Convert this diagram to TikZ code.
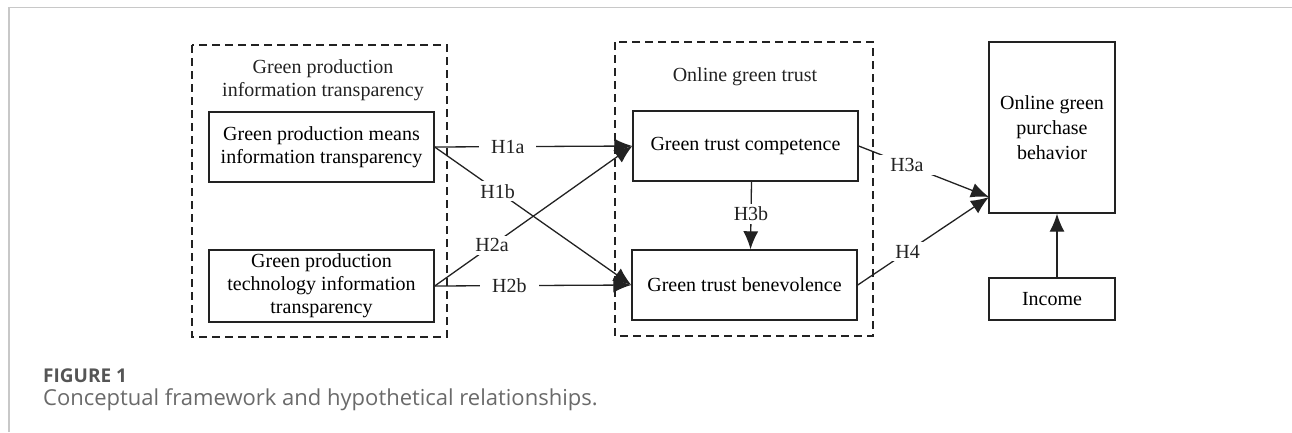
\documentclass[tikz,border=0pt]{standalone}
\usepackage{fontspec}
\setmainfont{Liberation Serif}
\newfontfamily\capfont{Open Sans}
\usetikzlibrary{arrows.meta,positioning}
\definecolor{framegray}{HTML}{C8C8C8}
\definecolor{capdark}{HTML}{555555}
\definecolor{caplight}{HTML}{6A6A6A}
\definecolor{ink}{HTML}{222222}
\tikzset{
  box/.style={draw=ink, line width=1.4pt, minimum width=225pt, minimum height=70pt, inner sep=0pt, align=center, font=\fontsize{20}{23}\selectfont},
  grp/.style={draw=ink, line width=1.3pt, dash pattern=on 8pt off 5pt},
  conn/.style={draw=ink, line width=1.3pt, -{Latex[length=18pt,width=15pt]}},
  hlabel/.style={fill=white, inner xsep=12pt, inner ysep=3pt, font=\fontsize{20}{23}\selectfont, text=ink},
  ttl/.style={align=center, font=\fontsize{20}{23}\selectfont, text=ink},
  figlabel/.style={anchor=west, inner sep=0pt, text=capdark, font=\capfont\bfseries\fontsize{19}{21}\selectfont},
  captext/.style={anchor=west, inner sep=0pt, text=caplight, font=\capfont\fontsize{22}{25}\selectfont}
}
\begin{document}
\begin{tikzpicture}[x=1pt,y=-1pt]
\useasboundingbox (0,0) rectangle (1292,432);
% frame
\draw[framegray, line width=1.6pt] (9,432) -- (9,7.5) -- (1292,7.5);
% groups
\draw[grp] (192,45) rectangle (447,337);
\draw[grp] (615,42) rectangle (873,336);
\node[ttl] (t1) at (323,80) {Green production\\information transparency};
\node[ttl] (t2) at (745,77) {Online green trust};
% boxes
\node[box] (means) at (321.5,147) {Green production means\\information transparency};
\node[box, minimum height=72pt] (tech) at (321.5,286) {Green production\\technology information\\transparency};
\node[box] (comp) at (745.5,146) {Green trust competence};
\node[box] (bene) at (744.5,285) {Green trust benevolence};
\node[box, minimum width=126pt, minimum height=171pt, font=\fontsize{20}{25}\selectfont] (ogpb) at (1052,127.5) {Online green\\purchase\\behavior};
\node[box, minimum width=126pt, minimum height=42pt] (inc) at (1052,299) {Income};
\coordinate (tip) at (989,197);
% connectors
\draw[conn] (means.east) -- node[hlabel, pos=0.37] (l1a) {H1a} (comp.west);
\draw[conn] (means.east) -- node[hlabel, pos=0.32] (l1b) {H1b} (bene.west);
\draw[conn] (tech.east) -- node[hlabel, pos=0.29] (l2a) {H2a} (comp.west);
\draw[conn] (tech.east) -- node[hlabel, pos=0.38] (l2b) {H2b} (bene.west);
\draw[conn] ([xshift=6pt]comp.south) -- node[hlabel, inner xsep=3pt, pos=0.48] (l3b) {H3b} ([xshift=6pt]bene.north);
\draw[conn] (comp.east) -- node[hlabel, pos=0.37] (l3a) {H3a} (tip);
\draw[conn] (bene.east) -- node[hlabel, pos=0.38] (l4) {H4} (tip);
\draw[conn] ([xshift=5pt]inc.north) -- ([xshift=5pt]ogpb.south);
% caption
\node[figlabel] (fig) at (43,376) {FIGURE 1};
\node[captext] (cap) at (43,400) {Conceptual framework and hypothetical relationships.};
\end{tikzpicture}
\end{document}
